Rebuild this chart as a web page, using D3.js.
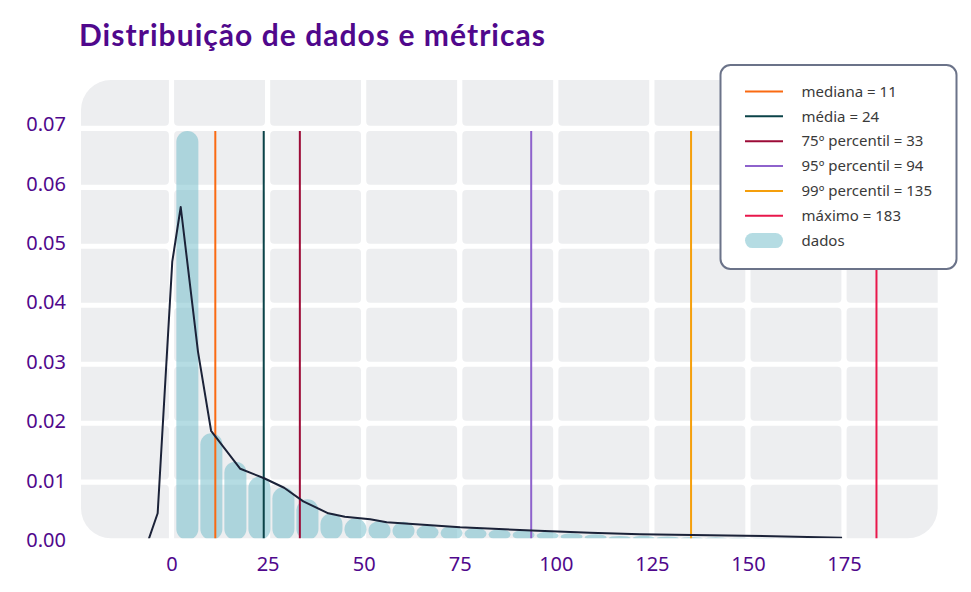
<!DOCTYPE html>
<html><head><meta charset="utf-8">
<script src="https://cdn.jsdelivr.net/npm/d3@7"></script>
<style>body{margin:0;background:#fff} svg{display:block}</style>
</head><body><svg id="c" width="971" height="592"></svg>
<script>
// ---------------- data ----------------
const titleText = "Distribuição de dados e métricas";
const binStart = 1;
const binWidth = 6.25;
const binDensity = [0.0689, 0.0180, 0.0132, 0.01066, 0.00888, 0.00686, 0.0045, 0.00366, 0.0032, 0.00308,
                    0.00253, 0.00236, 0.00207, 0.00185, 0.00168, 0.0014, 0.00113, 0.00096, 0.00067, 0.0007,
                    0.0006, 0.0005, 0.00045, 0.0004, 0.00035, 0.0003, 0.00025, 0.0002, 0.00015, 0.0001];
const kdeX = [-6.0, -3.6, 0.2, 2.4, 6.9, 10.3, 17.9, 24.1, 29.3, 34.3, 40.8, 45.1, 51.7, 56.0, 75.1, 93.7, 108.9, 121.9, 149.2, 174.5];
const kdeY = [0.0, 0.0045, 0.0469, 0.0561, 0.0317, 0.0184, 0.0120, 0.0104, 0.0088, 0.0065, 0.0045, 0.0039, 0.0035, 0.0030, 0.00214, 0.0016, 0.00123, 0.00096, 0.00072, 0.00039];
const metricNames = ["mediana", "média", "75º percentil", "95º percentil", "99º percentil", "máximo"];
const metricValues = [11.4, 24.0, 33.4, 93.6, 135.2, 183.45];
const metricColors = ["#fa6a12", "#0b4348", "#9c0b37", "#8e62cc", "#f59f0c", "#e8174b"];
const dataLabel = "dados";
const xTicks = [0, 25, 50, 75, 100, 125, 150, 175];
const yTicks = [0, 0.01, 0.02, 0.03, 0.04, 0.05, 0.06, 0.07];

// ---------------- layout ----------------
const svg = d3.select("#c");
const P = {left: 81, right: 937.7, top: 80, bottom: 538.3};
const x = d3.scaleLinear().domain([0, 175]).range([171.5, 844]);
const y = d3.scaleLinear().domain([0, 0.07]).range([540, 124.5]);
const yGrid = d3.scaleLinear().domain([0, 0.07]).range([541.2, 128.3]);
const purple = "#50088c";

const defs = svg.append("defs");
defs.append("clipPath").attr("id", "plotclip").append("rect")
  .attr("x", P.left).attr("y", P.top).attr("width", P.right - P.left).attr("height", P.bottom - P.top)
  .attr("rx", 30).attr("ry", 30);

// grid cells
const gap = 2.6;
const xb = [P.left - 20, ...xTicks.map(x), P.right + 20];
const yIn = yTicks.filter(t => yGrid(t) < P.bottom && yGrid(t) > P.top).map(yGrid).sort((a, b) => a - b);
const yb = [P.top - 20, ...yIn, P.bottom + 20];
const cells = [];
for (let i = 0; i < xb.length - 1; i++) for (let j = 0; j < yb.length - 1; j++) {
  const x0 = xb[i] + (i === 0 ? 0 : gap), x1 = xb[i + 1] - (i === xb.length - 2 ? 0 : gap);
  const y0 = yb[j] + (j === 0 ? 0 : gap), y1 = yb[j + 1] - (j === yb.length - 2 ? 0 : gap);
  cells.push({x0, x1, y0, y1});
}
const plot = svg.append("g").attr("clip-path", "url(#plotclip)");
plot.append("g").selectAll("rect").data(cells).join("rect")
  .attr("x", d => d.x0).attr("y", d => d.y0)
  .attr("width", d => d.x1 - d.x0).attr("height", d => d.y1 - d.y0)
  .attr("rx", 4).attr("fill", "#edeef0");

// bars
const bins = binDensity.map((d, i) => ({b0: binStart + i * binWidth, b1: binStart + (i + 1) * binWidth, d}));
plot.append("g").selectAll("rect").data(bins).join("rect")
  .attr("x", b => x(b.b0) + 1)
  .attr("width", b => x(b.b1) - x(b.b0) - 2)
  .attr("y", b => y(b.d))
  .attr("height", b => y(0) - y(b.d))
  .attr("rx", b => (x(b.b1) - x(b.b0) - 2) / 2)
  .attr("ry", b => (x(b.b1) - x(b.b0) - 2) / 2)
  .attr("fill", "#6bb9c7").attr("fill-opacity", 0.5);

// metric lines
const yMax = d3.max(binDensity);
plot.append("g").selectAll("line").data(metricValues).join("line")
  .attr("x1", v => x(v)).attr("x2", v => x(v))
  .attr("y1", y(yMax)).attr("y2", y(0))
  .attr("stroke", (v, i) => metricColors[i]).attr("stroke-width", 2);

// kde line
const kde = kdeX.map((v, i) => [v, kdeY[i]]);
plot.append("path").datum(kde)
  .attr("d", d3.line().x(d => x(d[0])).y(d => y(d[1])))
  .attr("fill", "none").attr("stroke", "#1b2238").attr("stroke-width", 2).attr("stroke-linejoin", "round");

// axes
const fontAx = "'Noto Sans', sans-serif";
const gy = svg.append("g").attr("transform", "translate(70,0)")
  .call(d3.axisLeft(y).tickValues(yTicks).tickFormat(d3.format(".2f")).tickSize(0).tickPadding(4));
const gx = svg.append("g").attr("transform", "translate(0,540)")
  .call(d3.axisBottom(x).tickValues(xTicks).tickFormat(d3.format("d")).tickSize(0).tickPadding(17));
[gx, gy].forEach(g => {
  g.select(".domain").remove();
  g.selectAll("text").attr("fill", purple).style("font-family", fontAx).style("font-size", "20px");
});

// title
const title = svg.append("text").attr("x", 79).attr("y", 46)
  .attr("fill", purple).style("font-family", "Lato, sans-serif").style("font-weight", 700)
  .style("font-size", "30px").text(titleText);
{
  const n = titleText.length;
  const len = title.node().getComputedTextLength();
  title.style("letter-spacing", ((466 - len) / (n - 1)) + "px");
}

// legend
const lg = svg.append("g");
lg.append("rect").attr("x", 720.5).attr("y", 65).attr("width", 236).attr("height", 204)
  .attr("rx", 10).attr("fill", "#fff").attr("stroke", "#6b7389").attr("stroke-width", 2);
const legendItems = metricNames.map((nm, i) => ({label: nm + " = " + Math.round(metricValues[i]), color: metricColors[i], type: "line"}))
  .concat([{label: dataLabel, color: "#6bb9c7", type: "bar"}]);
const li = lg.selectAll("g.it").data(legendItems).join("g").attr("class", "it")
  .attr("transform", (d, i) => `translate(0,${91.5 + i * 24.85})`);
li.filter(d => d.type === "line").append("line")
  .attr("x1", 745).attr("x2", 783).attr("y1", 0).attr("y2", 0)
  .attr("stroke", d => d.color).attr("stroke-width", 2);
li.filter(d => d.type === "bar").append("rect")
  .attr("x", 745).attr("y", -7.5).attr("width", 38).attr("height", 15).attr("rx", 7.5)
  .attr("fill", d => d.color).attr("fill-opacity", 0.5);
li.append("text").attr("x", 801.5).attr("y", 0).attr("dy", "0.35em")
  .attr("fill", "#3a3a3a").style("font-family", "'Noto Sans', sans-serif").style("font-size", "15px")
  .text(d => d.label);
</script>
</body></html>
